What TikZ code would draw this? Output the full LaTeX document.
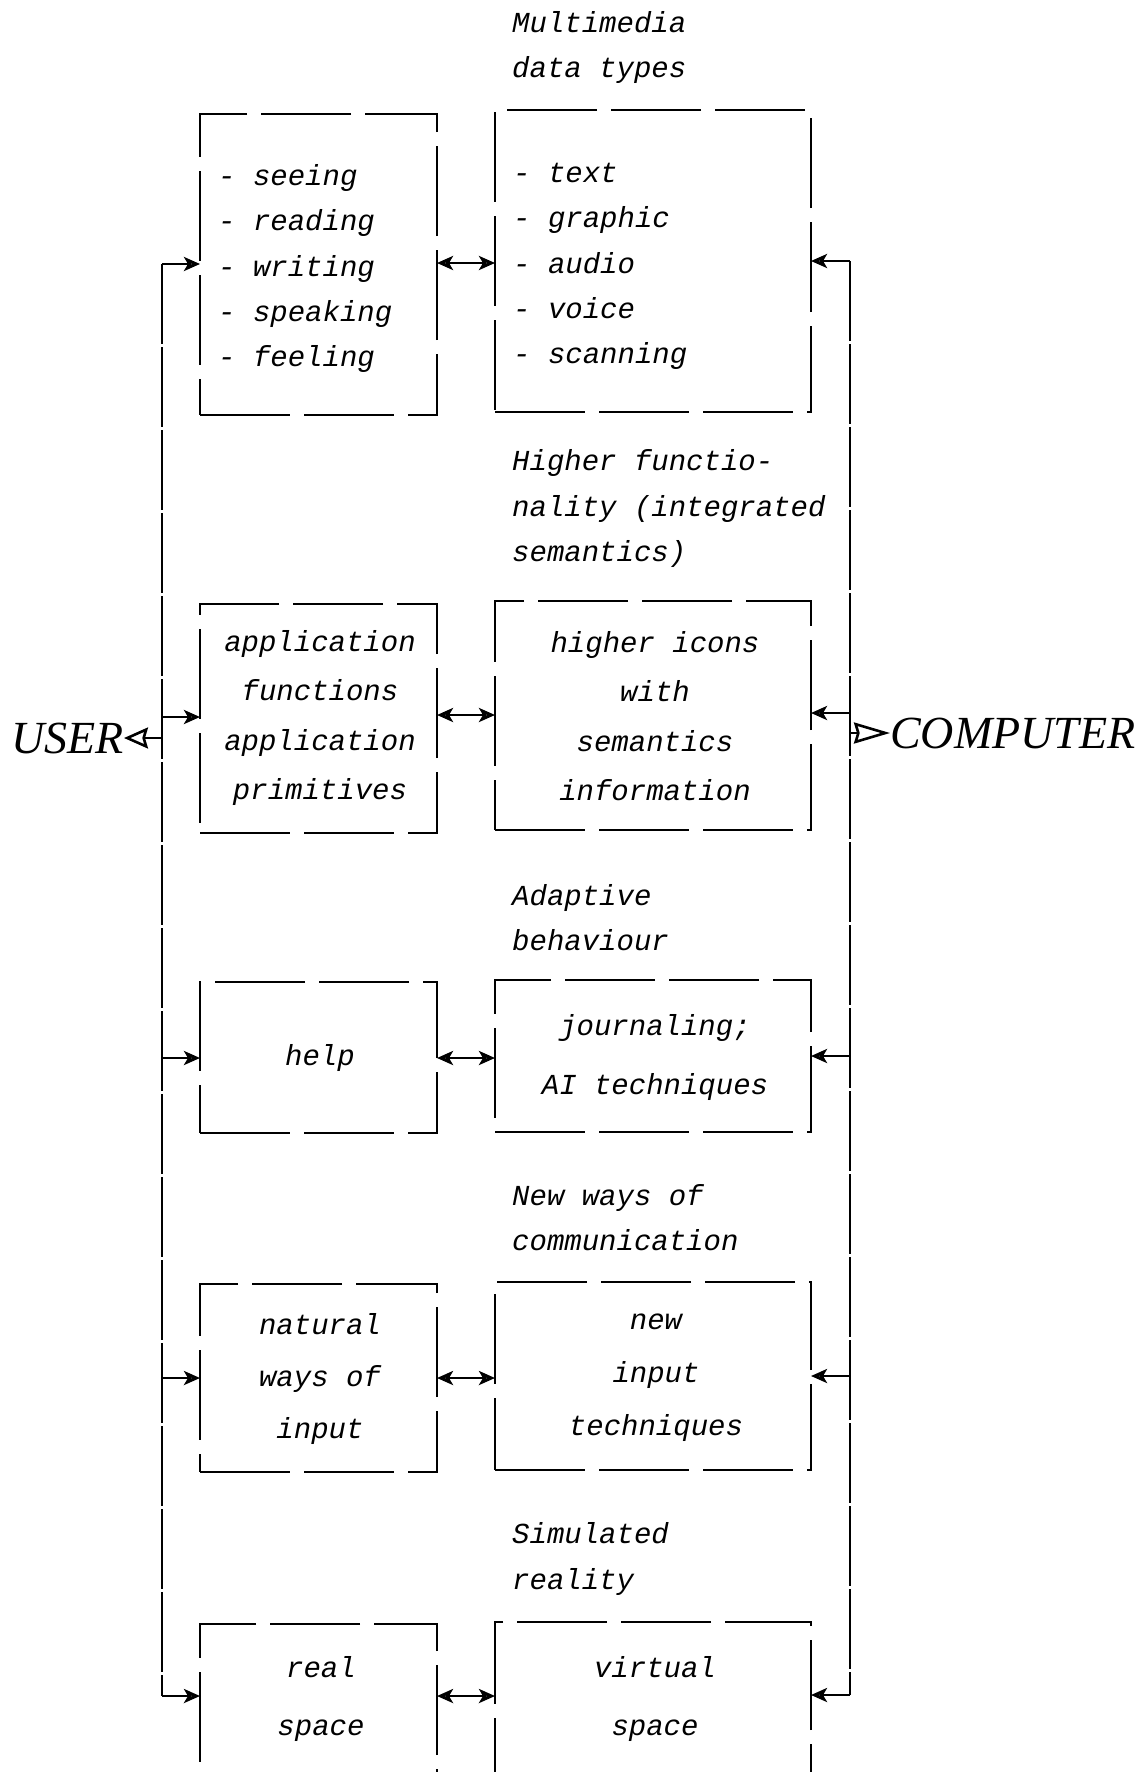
\documentclass[tikz,border=0pt]{standalone}
\usepackage{fontspec}
\setmainfont{Liberation Serif}
\newfontfamily\boxfont{Liberation Mono}
\usetikzlibrary{arrows.meta}
\tikzset{
  boxst/.style={draw, line width=1.6pt, dash pattern=on 90pt off 14pt, inner sep=0pt, outer sep=0pt},
  txt/.style={font={\boxfont\itshape\fontsize{29}{#1}\selectfont}, inner sep=0pt, text=black},
  big/.style={font={\itshape\fontsize{46}{50}\selectfont}, inner sep=0pt},
  conn/.style={line width=1.8pt},
  busline/.style={line width=1.1pt, dash pattern=on 80pt off 3pt},
  >={Stealth[open,length=16pt,width=14pt,inset=4pt,line width=3pt]},
  bigtip/.style={-{Stealth[open,length=#1,width=21pt,inset=3pt,line width=2.6pt]}}
}
\begin{document}
\begin{tikzpicture}[x=1pt,y=-1pt]
\clip (0,0) rectangle (1141,1772);
\fill[white] (0,0) rectangle (1141,1772);

% boxes
\node[boxst, minimum width=237pt, minimum height=301pt] (L1) at (318.5,264.5) {};
\node[boxst, minimum width=316pt, minimum height=302pt] (R1) at (653,261) {};
\node[boxst, minimum width=237pt, minimum height=229pt] (L2) at (318.5,718.5) {};
\node[boxst, minimum width=316pt, minimum height=229pt] (R2) at (653,715.5) {};
\node[boxst, minimum width=237pt, minimum height=151pt] (L3) at (318.5,1057.5) {};
\node[boxst, minimum width=316pt, minimum height=152pt] (R3) at (653,1056) {};
\node[boxst, minimum width=237pt, minimum height=188pt] (L4) at (318.5,1378) {};
\node[boxst, minimum width=316pt, minimum height=188pt] (R4) at (653,1376) {};
\node[boxst, minimum width=237pt, minimum height=206pt] (L5) at (318.5,1727) {};
\node[boxst, minimum width=316pt, minimum height=208pt] (R5) at (653,1726) {};

% headers
\node[txt=45.5, anchor=west, align=left] (h1) at (512,47.5) {Multimedia\\data types};
\node[txt=45.5, anchor=west, align=left] (h2) at (512,508.5) {Higher functio-\\nality (integrated\\semantics)};
\node[txt=45.5, anchor=west, align=left] (h3) at (512,917.5) {Adaptive\\behaviour};
\node[txt=45.5, anchor=west, align=left] (h4) at (512,1217.5) {New ways of\\communication};
\node[txt=46, anchor=west, align=left] (h5) at (512,1559) {Simulated\\reality};

% box texts
\node[txt=45.3, anchor=west, align=left] (t1l) at (218,268.5) {- seeing\\- reading\\- writing\\- speaking\\- feeling};
\node[txt=45.3, anchor=west, align=left] (t1r) at (513,266.5) {- text\\- graphic\\- audio\\- voice\\- scanning};
\node[txt=49.3, align=center] (t2l) at (320,718) {application\\functions\\application\\primitives};
\node[txt=49.3, align=center] (t2r) at (655,716) {higher icons\\with\\semantics\\information};
\node[txt=49] (t3l) at (320,1058) {help};
\node[txt=59, align=center] (t3r) at (655,1057.5) {journaling;\\AI techniques};
\node[txt=52, align=center] (t4l) at (320,1379) {natural\\ways of\\input};
\node[txt=53, align=center] (t4r) at (656,1378) {new\\input\\techniques};
\node[txt=58, align=center] (t5l) at (321,1699) {real\\space};
\node[txt=58, align=center] (t5r) at (655,1699) {virtual\\space};

% USER / COMPUTER
\node[big, anchor=east] (user) at (124,738) {USER};
\node[big, anchor=west] (comp) at (890,733) {COMPUTER};

% left bus
\coordinate (LB1) at (162,264);
\coordinate (LB2) at (162,717);
\coordinate (LBU) at (162,738);
\coordinate (LB3) at (162,1058);
\coordinate (LB4) at (162,1378);
\coordinate (LB5) at (162,1696);
\draw[busline] (LB1) -- (LB5);
\draw[conn,->] (LB1) -- (LB1 -| L1.west);
\draw[conn,->] (LB2) -- (LB2 -| L2.west);
\draw[conn,->] (LB3) -- (LB3 -| L3.west);
\draw[conn,->] (LB4) -- (LB4 -| L4.west);
\draw[conn,->] (LB5) -- (LB5 -| L5.west);
\draw[conn,bigtip=24pt] (LBU) -- (user.east);

% right bus
\coordinate (RB1) at (850,261);
\coordinate (RB2) at (850,713);
\coordinate (RBC) at (850,733);
\coordinate (RB3) at (850,1056);
\coordinate (RB4) at (850,1376);
\coordinate (RB5) at (850,1695);
\draw[busline] (RB1) -- (RB5);
\draw[conn,->] (RB1) -- (RB1 -| R1.east);
\draw[conn,->] (RB2) -- (RB2 -| R2.east);
\draw[conn,->] (RB3) -- (RB3 -| R3.east);
\draw[conn,->] (RB4) -- (RB4 -| R4.east);
\draw[conn,->] (RB5) -- (RB5 -| R5.east);
\draw[conn,bigtip=36pt] (RBC) -- (comp.west);

% middle double arrows
\coordinate (M1) at (437,263);
\coordinate (M2) at (437,715);
\coordinate (M3) at (437,1058);
\coordinate (M4) at (437,1378);
\coordinate (M5) at (437,1696);
\draw[conn,<->] (M1 -| L1.east) -- (M1 -| R1.west);
\draw[conn,<->] (M2 -| L2.east) -- (M2 -| R2.west);
\draw[conn,<->] (M3 -| L3.east) -- (M3 -| R3.west);
\draw[conn,<->] (M4 -| L4.east) -- (M4 -| R4.west);
\draw[conn,<->] (M5 -| L5.east) -- (M5 -| R5.west);
\end{tikzpicture}
\end{document}
